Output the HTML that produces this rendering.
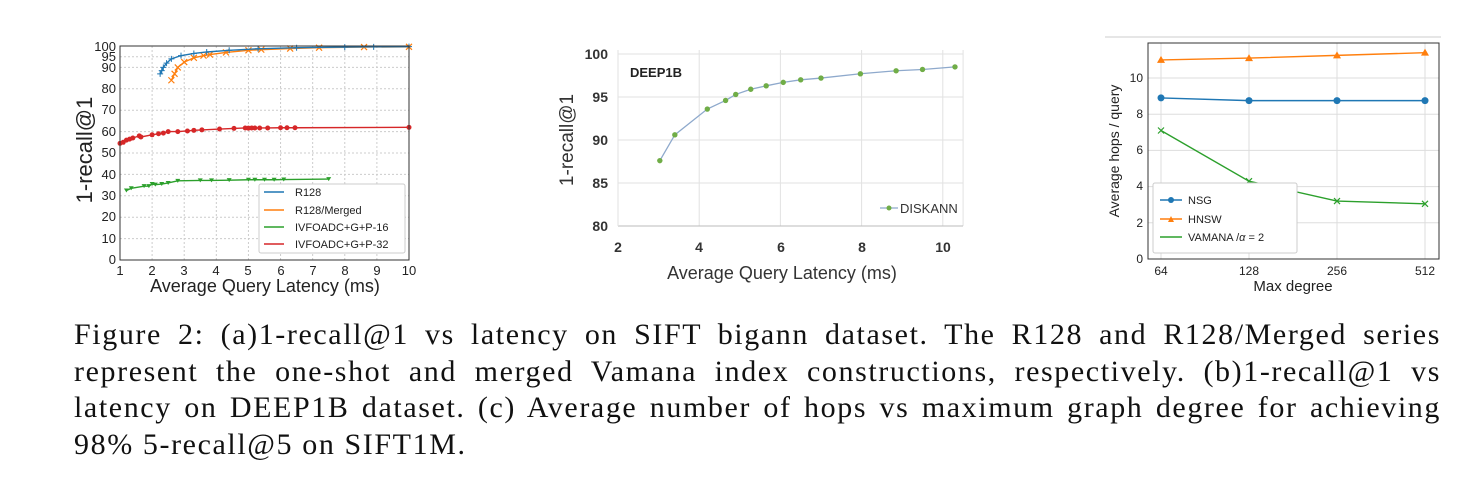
<!DOCTYPE html>
<html><head><meta charset="utf-8"><style>
body{margin:0;background:#fff;width:1482px;height:504px;overflow:hidden;position:relative}
svg{position:absolute;left:0;top:0}
.cap{position:absolute;left:74px;top:317px;width:1367px;font-family:"Liberation Serif",serif;font-size:30px;line-height:36.5px;color:#111;letter-spacing:1.6px}
.cap div{text-align:justify;text-align-last:justify;white-space:nowrap}
.cap div.l{text-align-last:left}
</style></head><body>
<svg id="s" width="1482" height="504" font-family="Liberation Sans, sans-serif">
<g id="ga"></g>
<rect x="120" y="46" width="289" height="214" fill="none" stroke="#333" stroke-width="1"/>
<g font-size="13" fill="#222" text-anchor="end">
<text x="116" y="51">100</text><text x="116" y="61">95</text><text x="116" y="72">90</text>
<text x="116" y="93">80</text><text x="116" y="114">70</text><text x="116" y="136">60</text>
<text x="116" y="157">50</text><text x="116" y="179">40</text><text x="116" y="200">30</text>
<text x="116" y="221">20</text><text x="116" y="243">10</text><text x="116" y="264">0</text>
</g>
<g font-size="13" fill="#222" text-anchor="middle">
<text x="120" y="275">1</text><text x="152" y="275">2</text><text x="184" y="275">3</text><text x="216" y="275">4</text><text x="248" y="275">5</text><text x="281" y="275">6</text><text x="313" y="275">7</text><text x="345" y="275">8</text><text x="377" y="275">9</text><text x="409" y="275">10</text>
</g>
<text x="265" y="292" font-size="18" text-anchor="middle" fill="#222">Average Query Latency (ms)</text>
<text transform="translate(92,150) rotate(-90)" font-size="22" text-anchor="middle" fill="#222">1-recall@1</text>
<rect x="259" y="184" width="146" height="69" fill="#fff" stroke="#ccc" rx="2"/>
<g font-size="11" fill="#222">
<line x1="264" y1="192" x2="284" y2="192" stroke="#1f77b4" stroke-width="1.5"/><text x="295" y="196">R128</text>
<line x1="264" y1="210" x2="284" y2="210" stroke="#ff7f0e" stroke-width="1.5"/><text x="295" y="214">R128/Merged</text>
<line x1="264" y1="227" x2="284" y2="227" stroke="#2ca02c" stroke-width="1.5"/><text x="295" y="231">IVFOADC+G+P-16</text>
<line x1="264" y1="244" x2="284" y2="244" stroke="#d62728" stroke-width="1.5"/><text x="295" y="248">IVFOADC+G+P-32</text>
</g>
<g id="gb"></g>
<g font-size="14" font-weight="bold" fill="#333" text-anchor="end">
<text x="608" y="59">100</text><text x="608" y="102">95</text><text x="608" y="145">90</text><text x="608" y="188">85</text><text x="608" y="231">80</text>
</g>
<g font-size="14" font-weight="bold" fill="#333" text-anchor="middle">
<text x="618" y="252">2</text><text x="699" y="252">4</text><text x="781" y="252">6</text><text x="862" y="252">8</text><text x="943" y="252">10</text>
</g>
<text x="630" y="77" font-size="13" font-weight="bold" fill="#222">DEEP1B</text>
<text x="782" y="279" font-size="18" text-anchor="middle" fill="#333">Average Query Latency (ms)</text>
<text transform="translate(573,140) rotate(-90)" font-size="19" text-anchor="middle" fill="#333">1-recall@1</text>
<line x1="880" y1="208" x2="898" y2="208" stroke="#8ea9cc" stroke-width="1.3"/><circle cx="889" cy="208" r="2.5" fill="#70ad47"/>
<text x="900" y="213" font-size="13" fill="#333">DISKANN</text>
<line x1="1105" y1="37" x2="1441" y2="37" stroke="#ccc"/>
<g id="gc"></g>
<rect x="1148" y="43" width="291" height="216" fill="none" stroke="#333"/>
<g font-size="12" fill="#222" text-anchor="end">
<text x="1143" y="263">0</text><text x="1143" y="227">2</text><text x="1143" y="190">4</text><text x="1143" y="154">6</text><text x="1143" y="118">8</text><text x="1143" y="82">10</text>
</g>
<g font-size="12" fill="#222" text-anchor="middle">
<text x="1161" y="275">64</text><text x="1249" y="275">128</text><text x="1337" y="275">256</text><text x="1425" y="275">512</text>
</g>
<text x="1293" y="291" font-size="15" text-anchor="middle" fill="#222">Max degree</text>
<text transform="translate(1119,151) rotate(-90)" font-size="14" text-anchor="middle" fill="#222">Average hops / query</text>
<rect x="1153" y="183" width="144" height="70" fill="#fff" stroke="#ccc" rx="2"/>
<g font-size="11" fill="#222">
<line x1="1160" y1="200" x2="1182" y2="200" stroke="#1f77b4" stroke-width="1.5"/><circle cx="1171" cy="200" r="3" fill="#1f77b4"/><text x="1188" y="204">NSG</text>
<line x1="1160" y1="219" x2="1182" y2="219" stroke="#ff7f0e" stroke-width="1.5"/><path d="M1168,222 L1171,216 L1174,222Z" fill="#ff7f0e"/><text x="1188" y="223">HNSW</text>
<line x1="1160" y1="237" x2="1182" y2="237" stroke="#2ca02c" stroke-width="1.5"/><text x="1188" y="241">VAMANA /<tspan font-style="italic">α</tspan> = 2</text>
</g>
</svg>
<div class="cap">
<div>Figure 2: (a)1-recall@1 vs latency on SIFT bigann dataset. The R128 and R128/Merged series</div>
<div>represent the one-shot and merged Vamana index constructions, respectively. (b)1-recall@1 vs</div>
<div>latency on DEEP1B dataset. (c) Average number of hops vs maximum graph degree for achieving</div>
<div class="l">98% 5-recall@5 on SIFT1M.</div>
</div>
<script>
const NS="http://www.w3.org/2000/svg";
function el(p,t,a){const e=document.createElementNS(NS,t);for(const k in a)e.setAttribute(k,a[k]);p.appendChild(e);return e;}
const ga=document.getElementById('ga');
const ax=x=>120+(x-1)*32.11, ay=y=>260-y*2.14;
for(let i=1;i<=10;i++)el(ga,'line',{x1:ax(i),x2:ax(i),y1:46,y2:260,stroke:'#ccc','stroke-dasharray':'2,2'});
[0,10,20,30,40,50,60,70,80,90,95,100].forEach(v=>el(ga,'line',{x1:120,x2:409,y1:ay(v),y2:ay(v),stroke:'#ccc','stroke-dasharray':'2,2'}));
function ser(g,pts,c,mk,fx,fy){el(g,'polyline',{points:pts.map(p=>fx(p[0])+','+fy(p[1])).join(' '),fill:'none',stroke:c,'stroke-width':1.4});
 pts.forEach(p=>{const x=fx(p[0]),y=fy(p[1]);
 if(mk==='+'){el(g,'path',{d:`M${x-3},${y}h6M${x},${y-3}v6`,stroke:c,'stroke-width':1});}
 else if(mk==='x'){el(g,'path',{d:`M${x-3},${y-3}l6,6M${x-3},${y+3}l6,-6`,stroke:c,'stroke-width':1.2});}
 else if(mk==='v'){el(g,'path',{d:`M${x-2.5},${y-2}h5l-2.5,4z`,fill:c});}
 else if(mk==='*'){el(g,'circle',{cx:x,cy:y,r:2.5,fill:c});}
 else if(mk==='o'){el(g,'circle',{cx:x,cy:y,r:3.5,fill:c});}
 else if(mk==='^'){el(g,'path',{d:`M${x-4},${y+3}L${x},${y-4}L${x+4},${y+3}z`,fill:c});}
 });}
ser(ga,[[1,54.5],[1.1,55],[1.2,56],[1.3,56.5],[1.4,57],[1.6,58],[1.65,57.5],[2,58.5],[2.2,59],[2.35,59.3],[2.5,60],[2.8,60],[3.1,60.3],[3.3,60.6],[3.55,60.8],[4.1,61.2],[4.55,61.5],[4.9,61.7],[5,61.6],[5.1,61.7],[5.2,61.7],[5.35,61.7],[5.6,61.7],[6,61.8],[6.2,61.8],[6.45,61.8],[10,62]],'#d62728','*',ax,ay);
ser(ga,[[1.2,32.5],[1.35,33.5],[1.75,34.5],[1.9,34.5],[2,35.5],[2.1,35.2],[2.3,35.5],[2.5,36],[2.8,37],[3.5,37.2],[3.85,37.2],[4.4,37.3],[5,37.5],[5.2,37.5],[5.5,37.5],[5.8,37.5],[6.1,37.6],[7.5,37.8]],'#2ca02c','v',ax,ay);
ser(ga,[[2.6,84],[2.7,87],[2.8,90],[3,92.5],[3.3,94.5],[3.6,95.5],[3.8,96],[4.3,97],[5,98],[5.4,98.3],[6.3,98.8],[7.2,99.2],[8.6,99.5],[10,99.6]],'#ff7f0e','x',ax,ay);
ser(ga,[[2.25,87],[2.3,88.5],[2.35,90],[2.45,92],[2.6,94],[2.9,95.5],[3.3,96.5],[3.7,97.2],[4.4,98],[5.3,98.7],[6.5,99.2],[8,99.5],[8.9,99.6],[10,99.7]],'#1f77b4','+',ax,ay);
const gb=document.getElementById('gb');
const bx=x=>618+(x-2)*40.6, by=y=>226-(y-80)*8.6;
for(let i=4;i<=10;i+=2)el(gb,'line',{x1:bx(i),x2:bx(i),y1:50,y2:226,stroke:'#e2e2e2'});
el(gb,'line',{x1:bx(10.5),x2:bx(10.5),y1:50,y2:226,stroke:'#e2e2e2'});
[85,90,95,100].forEach(v=>el(gb,'line',{x1:618,x2:963,y1:by(v),y2:by(v),stroke:'#e2e2e2'}));
el(gb,'line',{x1:618,x2:963,y1:226,y2:226,stroke:'#bbb'});
el(gb,'line',{x1:618,x2:618,y1:50,y2:226,stroke:'#e2e2e2'});
const bp=[[3.03,87.6],[3.4,90.6],[4.2,93.6],[4.65,94.6],[4.9,95.3],[5.27,95.9],[5.65,96.3],[6.07,96.7],[6.5,97.0],[7.0,97.2],[7.97,97.7],[8.85,98.05],[9.5,98.2],[10.3,98.5]];
el(gb,'polyline',{points:bp.map(p=>bx(p[0])+','+by(p[1])).join(' '),fill:'none',stroke:'#8ea9cc','stroke-width':1.3});
bp.forEach(p=>el(gb,'circle',{cx:bx(p[0]),cy:by(p[1]),r:2.7,fill:'#70ad47'}));
const gc=document.getElementById('gc');
const cxs=[1161,1249,1337,1425], cy=v=>259-v*18.1;
cxs.forEach(x=>el(gc,'line',{x1:x,x2:x,y1:43,y2:259,stroke:'#ddd'}));
[2,4,6,8,10].forEach(v=>el(gc,'line',{x1:1148,x2:1439,y1:cy(v),y2:cy(v),stroke:'#ddd'}));
const cf=i=>cxs[i];
ser(gc,[[0,8.9],[1,8.75],[2,8.75],[3,8.75]],'#1f77b4','o',cf,cy);
ser(gc,[[0,11],[1,11.1],[2,11.25],[3,11.4]],'#ff7f0e','^',cf,cy);
ser(gc,[[0,7.1],[1,4.3],[2,3.2],[3,3.05]],'#2ca02c','x',cf,cy);
</script>
</body></html>
